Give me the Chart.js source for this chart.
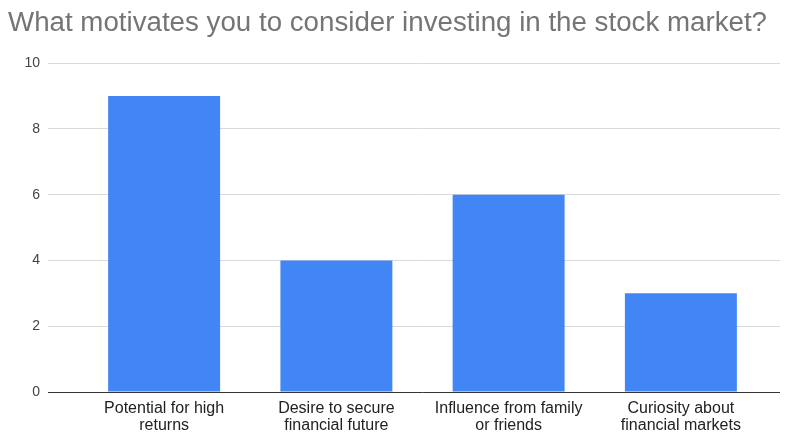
<!DOCTYPE html>
<html>
<head>
<meta charset="utf-8">
<title>Stock market motivations</title>
<script src="https://cdn.jsdelivr.net/npm/chart.js@4.4.1/dist/chart.umd.min.js"></script>
<style>
  html, body { margin: 0; padding: 0; background: #fff; }
  #wrap { width: 788px; height: 435px; }
</style>
</head>
<body>
<div id="wrap"><canvas id="myChart" width="788" height="435"></canvas></div>
<script>
const chartTitle = "What motivates you to consider investing in the stock market?";
const categories = [
  ["Potential for high", "returns"],
  ["Desire to secure", "financial future"],
  ["Influence from family", "or friends"],
  ["Curiosity about", "financial markets"]
];
const responses = [9, 4, 6, 3];
const yTicks = [0, 2, 4, 6, 8, 10];

// gridlines run a bit past the last bar group, like the original
const gridTail = {
  id: 'gridTail',
  beforeDatasetsDraw(chart) {
    const y = chart.scales.y;
    const c = chart.ctx;
    const right = chart.chartArea.right;
    c.save();
    c.lineWidth = 1;
    yTicks.forEach(v => {
      const py = Math.round(y.getPixelForValue(v) - 0.5) + 0.5;
      c.strokeStyle = v === 0 ? '#333' : '#d9d9d9';
      c.beginPath();
      c.moveTo(right, py);
      c.lineTo(right + 13, py);
      c.stroke();
    });
    c.restore();
  }
};

const ctx = document.getElementById('myChart').getContext('2d');
new Chart(ctx, {
  type: 'bar',
  data: {
    labels: categories,
    datasets: [{
      label: "Responses",
      data: responses,
      backgroundColor: '#4285F4',
      borderWidth: 0,
      barPercentage: 0.65,
      categoryPercentage: 1
    }]
  },
  plugins: [gridTail],
  options: {
    responsive: false,
    animation: false,
    layout: { padding: { left: 8, right: 21, top: 0, bottom: 0 } },
    plugins: {
      legend: { display: false },
      tooltip: { enabled: false },
      title: {
        display: true,
        text: chartTitle,
        align: 'start',
        color: '#757575',
        font: { family: 'Liberation Sans, Arial, sans-serif', size: 28.4, weight: 'normal' },
        padding: { top: 6, bottom: 23 }
      }
    },
    scales: {
      x: {
        grid: { display: false, drawTicks: false },
        border: { display: false },
        ticks: {
          color: '#222',
          font: { family: 'Liberation Sans, Arial, sans-serif', size: 16, lineHeight: 1.05 },
          maxRotation: 0,
          padding: 8
        },
        afterFit: function(scale) { scale.height = 43; }
      },
      y: {
        min: 0,
        max: 10,
        afterBuildTicks: function(scale) { scale.ticks = yTicks.map(v => ({ value: v })); },
        grid: {
          color: function(c) { return c.tick && c.tick.value === 0 ? '#333' : '#d9d9d9'; },
          lineWidth: 1,
          tickLength: 30,
          drawTicks: true
        },
        border: { display: false },
        ticks: {
          color: '#444',
          font: { family: 'Liberation Sans, Arial, sans-serif', size: 14 },
          padding: 8
        },
        afterFit: function(scale) { scale.width = 70; }
      }
    }
  }
});
</script>
</body>
</html>
